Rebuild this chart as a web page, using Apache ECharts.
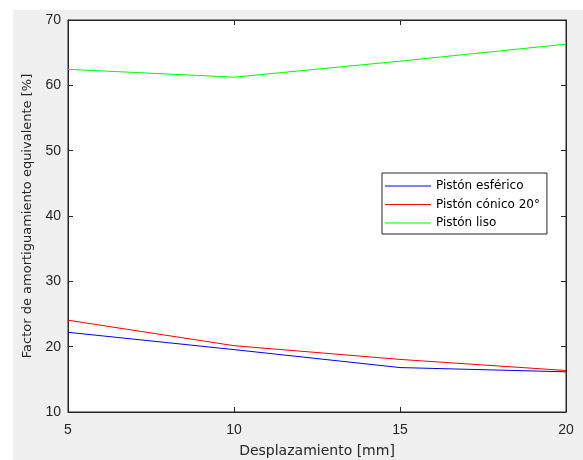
<!DOCTYPE html>
<html>
<head>
<meta charset="utf-8">
<script src="https://cdn.jsdelivr.net/npm/echarts@6/dist/echarts.min.js"></script>
<style>
html,body{margin:0;padding:0;background:#fff;}
#c{width:583px;height:460px;}
</style>
</head>
<body>
<div id="c"></div>
<script>
const xValues = [5, 10, 15, 20];
const esferico = [22.2, 19.55, 16.8, 16.15];
const conico = [24.05, 20.15, 18.05, 16.35];
const liso = [62.45, 61.25, 63.7, 66.3];
const seriesNames = ['Pistón esférico', 'Pistón cónico 20°', 'Pistón liso'];
const seriesColors = ['#0000ff', '#ff0000', '#00ff00'];
const xTitle = 'Desplazamiento [mm]';
const yTitle = 'Factor de amortiguamiento equivalente [%]';

const FONT = 'Liberation Sans, Arial, Helvetica, sans-serif';
const WFONT = 'DejaVu Sans, sans-serif';
const AX = '#262626';
const chart = echarts.init(document.getElementById('c'), null, {renderer: 'canvas'});

function pairs(ys){ return xValues.map((x,i)=>[x, ys[i]]); }

const tick = {show:true, inside:true, length:5, lineStyle:{color:AX, width:1}};
chart.setOption({
  backgroundColor: '#f0f0f0',
  animation: false,
  textStyle: {fontFamily: FONT},
  graphic: [
    {type:'rect', left:0, top:0, shape:{width:13, height:460}, style:{fill:'#fff'}, silent:true},
    {type:'rect', left:0, top:0, shape:{width:583, height:10}, style:{fill:'#fff'}, silent:true}
  ],
  grid: {left:68, right:17, top:20, bottom:48, outerBoundsMode:'none', containLabel:false,
         show:true, backgroundColor:'#fff', borderColor:AX, borderWidth:1},
  legend: {
    orient:'vertical', left:382, top:173,
    backgroundColor:'#fff', borderColor:AX, borderWidth:1,
    padding:[6,7,4,3], itemGap:4.5, itemWidth:46, itemHeight:1,
    icon:'rect',
    textStyle:{fontFamily:WFONT, fontSize:12, color:'#000', lineHeight:14},
    data: seriesNames.map((n,i)=>({name:n, icon:'rect', itemStyle:{color:seriesColors[i]}}))
  },
  xAxis: [
    {type:'value', min:5, max:20, interval:5, position:'bottom',
     name:xTitle, nameLocation:'middle', nameGap:32,
     nameTextStyle:{fontFamily:WFONT, fontSize:14, color:AX},
     axisLine:{show:true, lineStyle:{color:AX}}, axisTick:tick,
     axisLabel:{fontFamily:FONT, fontSize:14, color:AX, margin:11},
     splitLine:{show:false}},
    {type:'value', min:5, max:20, interval:5, position:'top',
     axisLine:{show:true, lineStyle:{color:AX}}, axisTick:tick,
     axisLabel:{show:false}, splitLine:{show:false}}
  ],
  yAxis: [
    {type:'value', min:10, max:70, interval:10, position:'left',
     name:yTitle, nameLocation:'middle', nameGap:29,
     nameTextStyle:{fontFamily:WFONT, fontSize:13, color:AX},
     axisLine:{show:true, lineStyle:{color:AX}}, axisTick:tick,
     axisLabel:{fontFamily:FONT, fontSize:14, color:AX, margin:7},
     splitLine:{show:false}},
    {type:'value', min:10, max:70, interval:10, position:'right',
     axisLine:{show:true, lineStyle:{color:AX}}, axisTick:tick,
     axisLabel:{show:false}, splitLine:{show:false}}
  ],
  series: seriesNames.map((n,i)=>({
    name:n, type:'line', data:pairs([esferico, conico, liso][i]), symbol:'none',
    lineStyle:{color:seriesColors[i], width:1}, itemStyle:{color:seriesColors[i]}
  }))
});
</script>
</body>
</html>
